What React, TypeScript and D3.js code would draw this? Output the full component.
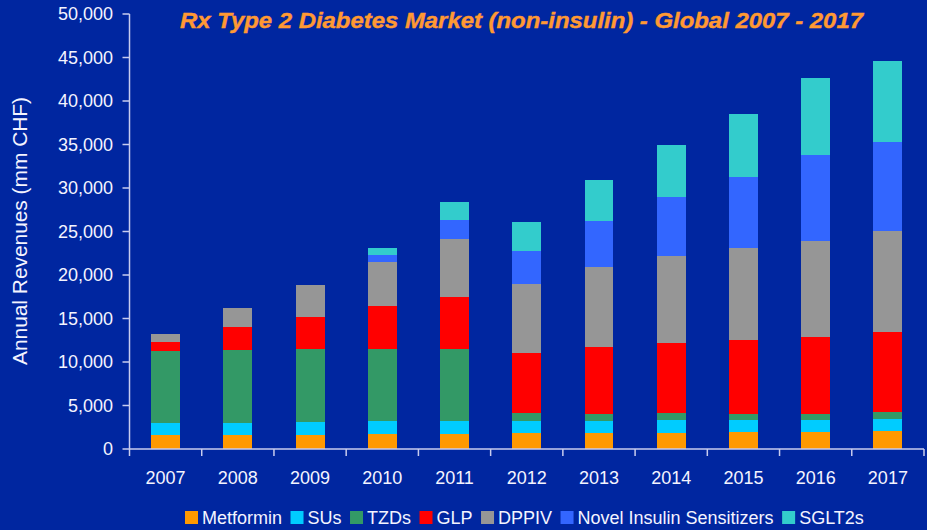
import React from "react";
import * as d3 from "d3";

const years = ["2007","2008","2009","2010","2011","2012","2013","2014","2015","2016","2017"];
const seriesNames = ["Metformin","SUs","TZDs","GLP","DPPIV","Novel Insulin Sensitizers","SGLT2s"];
const metformin = [1600,1600,1600,1750,1750,1850,1850,1850,2000,2000,2050];
const sus =       [1400,1400,1500,1450,1450,1400,1350,1500,1350,1350,1400];
const tzds =      [8300,8400,8400,8300,8300,850,850,800,700,700,850];
const glp =       [1000,2600,3700,4950,6000,6950,7650,8050,8500,8850,9150];
const dppiv =     [900,2200,3700,5050,6650,7950,9200,10000,10600,11050,11600];
const novel =     [0,0,0,800,2200,3800,5300,6800,8150,9900,10250];
const sglt2 =     [0,0,0,800,2050,3300,4700,5950,7250,8850,9300];
const yTicks = [0,5000,10000,15000,20000,25000,30000,35000,40000,45000,50000];
const colors = ["#FF9900","#00CCFF","#339966","#FF0000","#969696","#3366FF","#33CCCC"];
const title = "Rx Type 2 Diabetes Market (non-insulin) - Global 2007 - 2017";
const yLabel = "Annual Revenues (mm CHF)";

const W = 927, H = 530;
const left = 129.5, right = 924, top = 14, bottom = 449;
const BG = "#0026A0";
const AXIS = "#C8CCEE";
const TXT = "#F4F4FF";
const FONT = "'Liberation Sans', Arial, sans-serif";

function measure(text: string, font: string): number {
  const c = document.createElement("canvas");
  const ctx = c.getContext("2d");
  if (!ctx) return text.length * 9;
  ctx.font = font;
  return ctx.measureText(text).width;
}

export default function App() {
  const all = [metformin, sus, tzds, glp, dppiv, novel, sglt2];
  const rows = years.map((y, i) => {
    const r: any = { year: y };
    seriesNames.forEach((s, k) => (r[s] = all[k][i]));
    return r;
  });
  const stack = d3.stack<any>().keys(seriesNames)(rows);
  const x = d3.scaleBand().domain(years).range([left, right]).paddingInner(0.6).paddingOuter(0.3);
  const y = d3.scaleLinear().domain([0, 50000]).range([bottom, top]);
  const fmt = d3.format(",");
  const boundaries = d3.range(years.length + 1).map((i) => left + i * ((right - left) / years.length));

  // legend layout
  const legFont = `18px ${FONT}`;
  const sq = 13, gapSqText = 4, gapItem = 8.5;
  let lx = 185;
  const legendItems = seriesNames.map((s, k) => {
    const item = { s, k, x: lx };
    lx += sq + gapSqText + measure(s, legFont) + gapItem;
    return item;
  });

  return (
    <svg width={W} height={H} style={{ position: "absolute", left: 0, top: 0, display: "block" }}>
      <rect x={0} y={0} width={W} height={H} fill={BG} />
      {stack.map((layer, k) => (
        <g key={layer.key} fill={colors[k]}>
          {layer.map((d, i) => {
            const h = y(d[0]) - y(d[1]);
            if (h <= 0) return null;
            return (
              <rect key={i} x={x(years[i])} y={y(d[1])} width={x.bandwidth()} height={h} shapeRendering="crispEdges" />
            );
          })}
        </g>
      ))}
      {/* y axis */}
      <line x1={left} x2={left} y1={top} y2={bottom} stroke={AXIS} strokeWidth={1.5} />
      {yTicks.map((t) => (
        <g key={t}>
          <line x1={left - 7} x2={left} y1={y(t)} y2={y(t)} stroke={AXIS} strokeWidth={1.5} />
          <text x={113} y={y(t)} dy="0.35em" textAnchor="end" fill={TXT} fontFamily={FONT} fontSize={18}>
            {fmt(t)}
          </text>
        </g>
      ))}
      {/* x axis */}
      <line x1={left} x2={right} y1={bottom} y2={bottom} stroke={AXIS} strokeWidth={1.5} />
      {boundaries.map((bx, i) => (
        <line key={i} x1={bx} x2={bx} y1={bottom} y2={bottom + 7} stroke={AXIS} strokeWidth={1.5} />
      ))}
      {years.map((yr) => (
        <text key={yr} x={(x(yr) as number) + x.bandwidth() / 2} y={484} textAnchor="middle" fill={TXT} fontFamily={FONT} fontSize={18}>
          {yr}
        </text>
      ))}
      {/* y label */}
      <text
        transform={`translate(27,231) rotate(-90)`}
        textAnchor="middle"
        fill={TXT}
        fontFamily={FONT}
        fontSize={19.5}
        textLength={268}
        lengthAdjust="spacingAndGlyphs"
      >
        {yLabel}
      </text>
      {/* title */}
      <text
        x={180}
        y={28}
        fill="#FF9933"
        stroke="#FF9933"
        strokeWidth={0.4}
        fontFamily="'Liberation Sans Narrow', 'Arial Narrow', 'Liberation Sans', Arial, sans-serif"
        fontWeight="bold"
        fontStyle="italic"
        fontSize={22}
        textLength={683}
        lengthAdjust="spacingAndGlyphs"
      >
        {title}
      </text>
      {/* legend */}
      {legendItems.map((it) => (
        <g key={it.s}>
          <rect x={it.x} y={511} width={sq} height={sq} fill={colors[it.k]} />
          <text x={it.x + sq + gapSqText} y={524} fill={TXT} fontFamily={FONT} fontSize={18}>
            {it.s}
          </text>
        </g>
      ))}
    </svg>
  );
}
